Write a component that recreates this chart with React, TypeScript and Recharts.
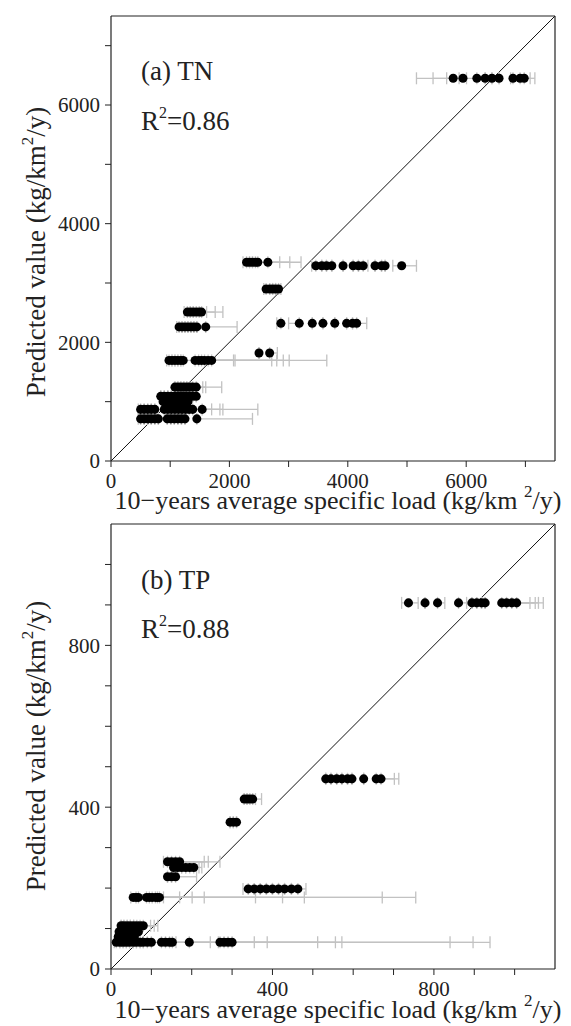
import React from 'react';
import { ScatterChart, Scatter, XAxis, YAxis, ZAxis, ErrorBar, ReferenceLine } from 'recharts';

const FONT = "'Liberation Serif', 'Times New Roman', Times, serif";
const INK = '#222222';
const GREY = '#c2c2c2';

// ---------- (a) TN ----------
const tnTicks = [0, 1000, 2000, 3000, 4000, 5000, 6000, 7000];
const tnLabelTicks = [0, 2000, 4000, 6000];
const tnMax = 7500;
const tnPredicted = [6450, 3350, 3290, 2900, 2510, 2320, 2260, 1820, 1695, 1245, 1090, 1000, 870, 710];
// each observation: x or [x, errorLow, errorHigh]
const tnObserved: (number | number[])[][] = [
  [[5780, 620, 100], [5945, 275, 60], [6180, 740, 0], 6320, 6435, 6555, [6790, 40, 0], [6910, 0, 170], [6980, 0, 180]],
  [[2290, 60, 0], 2340, 2390, [2440, 0, 410], [2480, 0, 540], [2650, 0, 560]],
  [[3460, 70, 0], 3560, 3640, 3730, 3920, 4090, 4180, [4260, 0, 80], 4460, 4570, 4630, [4910, 150, 250]],
  [[2620, 40, 0], 2680, 2730, 2780, [2830, 0, 40]],
  [[1290, 55, 0], 1340, 1390, [1440, 0, 175], [1490, 0, 270], [1530, 0, 360]],
  [[2870, 70, 0], [3180, 180, 0], 3400, 3580, 3780, 3980, 4080, [4150, 0, 170]],
  [[1150, 40, 0], 1200, 1250, 1300, 1350, 1400, 1450, [1600, 0, 530]],
  [2500, [2680, 0, 130]],
  [[980, 40, 0], 1030, 1080, 1130, 1180, [1220, 0, 850], [1420, 0, 675], [1480, 0, 1235], [1530, 0, 1270], [1580, 0, 1330], [1640, 0, 1370], [1700, 0, 1945]],
  [1080, 1130, 1180, 1230, 1280, [1330, 0, 220], [1380, 0, 220], [1440, 0, 430]],
  [840, 900, 960, 1020, 1080, 1140, 1200, 1260, 1320, 1380, 1440],
  [880, 940, 1000, 1060, 1120, 1180, 1240, 1300],
  [[500, 40, 0], 560, 620, 680, 740, 900, 960, 1020, 1080, 1140, 1200, [1260, 0, 440], [1320, 0, 570], [1380, 0, 460], [1540, 0, 940]],
  [[500, 40, 0], 560, 620, 680, 740, 800, 950, 1010, 1070, 1130, 1190, 1250, [1450, 0, 940]],
];

// ---------- (b) TP ----------
const tpTicks = [0, 100, 200, 300, 400, 500, 600, 700, 800, 900, 1000];
const tpLabelTicks = [0, 400, 800];
const tpMax = 1100;
const tpPredicted = [905, 470, 420, 363, 265, 251, 228, 198, 177, 107, 92, 80, 66];
const tpObserved: (number | number[])[][] = [
  [[737, 17, 24], 778, [809, 0, 18], [861, 0, 20], 894, 906, 918, 927, [968, 0, 103], [980, 0, 79], [993, 0, 45], [1005, 0, 46]],
  [532, 545, 559, 572, 586, 597, 626, [657, 0, 45], [669, 0, 44]],
  [330, 337, [344, 0, 14], [351, 0, 22]],
  [295, 303, 311],
  [[140, 10, 0], [150, 0, 81], [160, 0, 81], [170, 0, 100]],
  [155, 165, 175, 185, [195, 0, 23], [205, 0, 20]],
  [140, 150, [160, 0, 52]],
  [[340, 13, 0], 355, 370, 385, 400, 415, 430, 447, [463, 0, 20]],
  [[55, 6, 424], [62, 0, 610], [68, 0, 687], [88, 0, 270], [95, 0, 330], [102, 0, 129], [110, 0, 91], [115, 0, 55], [120, 0, 10]],
  [25, 32, 40, 48, 56, [64, 0, 34], [72, 0, 35], [80, 0, 36]],
  [20, 28, 36, 44, 52, 60, 68],
  [18, 26, 34, 42, 50, 58],
  [[13, 5, 0], 22, 30, 38, 46, 55, 63, 72, 80, [90, 0, 849], [100, 0, 797], [125, 0, 715], [135, 0, 437], [145, 0, 101], [152, 0, 9], [194, 0, 72], [270, 0, 286], [280, 0, 232], [290, 0, 97], [300, 0, 55]],
];

const toPoints = (preds: number[], obs: (number | number[])[][]) =>
  preds.flatMap((y, i) =>
    obs[i].map((p) => {
      const [x, lo, hi] = Array.isArray(p) ? p : [p, 0, 0];
      return { x, y, err: [lo, hi] };
    })
  );

const tnData = toPoints(tnPredicted, tnObserved);
const tpData = toPoints(tpPredicted, tpObserved);

const tickStyle = { fontFamily: FONT, fontSize: 21, fill: INK };

function Panel(props: {
  data: { x: number; y: number; err: number[] }[];
  max: number;
  ticks: number[];
  labelTicks: number[];
  height: number;
  marginTop: number;
  marginBottom: number;
  title: string;
  r2: string;
  titleY: number;
  r2Y: number;
  xLabelY: number;
  yLabelY: number;
}) {
  const { data, max, ticks, labelTicks, height, marginTop, marginBottom } = props;
  const fmt = (v: number) => (labelTicks.includes(v) ? String(v) : '');
  const axisCommon = {
    type: 'number' as const,
    domain: [0, max],
    ticks,
    allowDataOverflow: true,
    stroke: INK,
    strokeWidth: 1.2,
    tickSize: 6,
    tickLine: { stroke: INK, strokeWidth: 1 },
    interval: 0 as const,
  };
  const W = 563;
  return (
    <div style={{ position: 'relative', width: W, height }}>
      <ScatterChart width={W} height={height} margin={{ top: marginTop, right: 6, bottom: marginBottom, left: 43 }}>
        <XAxis {...axisCommon} dataKey="x" height={30} tickMargin={6} tick={tickStyle} tickFormatter={fmt} />
        <XAxis {...axisCommon} xAxisId="top" orientation="top" height={4} tick={false} />
        <YAxis {...axisCommon} dataKey="y" width={60} tickMargin={5} tick={tickStyle} tickFormatter={fmt} />
        <YAxis {...axisCommon} yAxisId="right" orientation="right" width={10} tick={false} />
        <ZAxis range={[85, 85]} />
        <ReferenceLine segment={[{ x: 0, y: 0 }, { x: max, y: max }]} stroke="#111" strokeWidth={1} />
        <Scatter data={data} fill="#000" isAnimationActive={false}>
          <ErrorBar dataKey="err" direction="x" stroke={GREY} strokeWidth={1.3} width={6} />
        </Scatter>
      </ScatterChart>
      <svg
        width={W}
        height={height}
        style={{ position: 'absolute', left: 0, top: 0, pointerEvents: 'none', overflow: 'visible' }}
      >
        <g fill={INK}>
          <text x={133} y={props.titleY} fontSize={27}>{props.title}</text>
          <text x={133} y={props.r2Y} fontSize={27}>
            R<tspan fontSize={16} dy={-12}>2</tspan>
            <tspan dy={12}>{'=' + props.r2}</tspan>
          </text>
          <text x={330} y={props.xLabelY} fontSize={26} textAnchor="middle">
            10−years average specific load (kg/km <tspan fontSize={17} dy={-12}>2</tspan>
            <tspan dy={12}>/y)</tspan>
          </text>
          <text transform={`translate(37, ${props.yLabelY}) rotate(-90)`} fontSize={27} textAnchor="middle">
            Predicted value (kg/km<tspan fontSize={17} dy={-12}>2</tspan>
            <tspan dy={12}>/y)</tspan>
          </text>
        </g>
      </svg>
    </div>
  );
}

export default function App() {
  return (
    <div className="chart-root" style={{ width: 563, background: '#fff', fontFamily: FONT }}>
      <style>{`.chart-root svg text, .chart-root svg tspan { font-family: ${FONT} !important; }`}</style>
      <Panel
        data={tnData}
        max={tnMax}
        ticks={tnTicks}
        labelTicks={tnLabelTicks}
        height={512}
        marginTop={4}
        marginBottom={29}
        title="(a) TN"
        r2="0.86"
        titleY={72}
        r2Y={122}
        xLabelY={501}
        yLabelY={244}
      />
      <Panel
        data={tpData}
        max={tpMax}
        ticks={tpTicks}
        labelTicks={tpLabelTicks}
        height={506}
        marginTop={0}
        marginBottom={27}
        title="(b) TP"
        r2="0.88"
        titleY={69}
        r2Y={118}
        xLabelY={498}
        yLabelY={226}
      />
    </div>
  );
}
